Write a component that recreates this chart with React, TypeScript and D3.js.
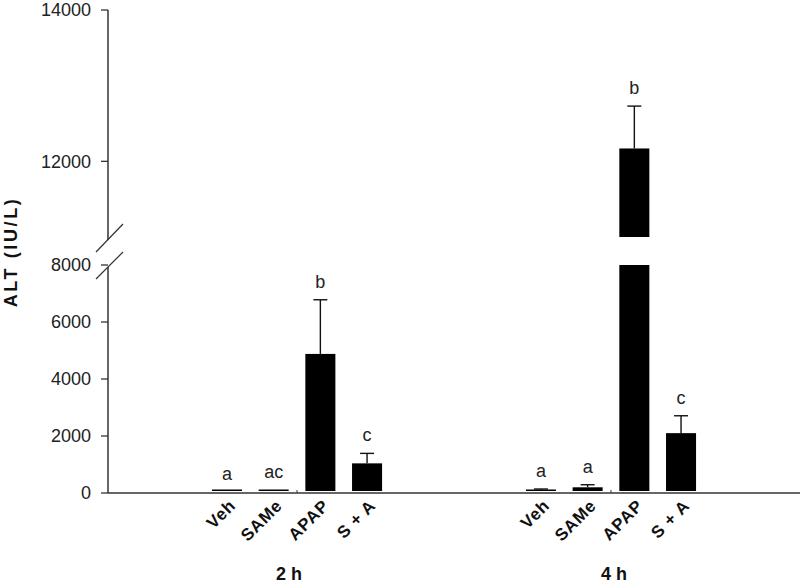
import React from "react";
import * as d3 from "d3";

const groups = ["2 h", "4 h"];
const treatments = ["Veh", "SAMe", "APAP", "S + A"];
const means2h = [50, 90, 4880, 1040];
const errs2h = [0, 0, 1900, 350];
const means4h = [100, 200, 12170, 2100];
const errs4h = [40, 90, 560, 610];
const letters2h = ["a", "ac", "b", "c"];
const letters4h = ["a", "a", "b", "c"];
const lowerTicks = [0, 2000, 4000, 6000, 8000];
const upperTicks = [12000, 14000];
const lowerDomain = [0, 8000];
const upperDomain = [11000, 14000];

const W = 800;
const H = 585;
const left = 108;
const right = 800;
const groupLabelShift = [-8, 3];

export default function App() {
  const yLow = d3.scaleLinear().domain(lowerDomain).range([493, 265]);
  const yUp = d3.scaleLinear().domain(upperDomain).range([237, 10]);
  const xG = d3.scaleBand().domain(groups).range([left, right]).paddingInner(0).paddingOuter(0.102);
  const xT = d3.scaleBand().domain(treatments).range([0, xG.bandwidth()]).paddingInner(0.357).paddingOuter(1.54);

  const data = [
    { g: groups[0], means: means2h, errs: errs2h, letters: letters2h },
    { g: groups[1], means: means4h, errs: errs4h, letters: letters4h },
  ];
  const breakV = lowerDomain[1];
  const y = (v: number) => (v <= breakV ? yLow(v) : yUp(v));
  const font = "Arial, 'Liberation Sans', sans-serif";
  const cap = 7;
  const ax = left;
  const yUpBottom = yUp(upperDomain[0]);
  const yLowTop = yLow(lowerDomain[1]);

  return (
    <svg width={W} height={H} style={{ position: "absolute", left: 0, top: 0, background: "#fff" }} fontFamily={font}>
      {/* y axis */}
      <line x1={ax} x2={ax} y1={yUp(upperDomain[1])} y2={yUpBottom + 3} stroke="#333" strokeWidth={1.5} />
      <line x1={ax} x2={ax} y1={yLowTop + 2} y2={yLow(0)} stroke="#333" strokeWidth={1.5} />
      {/* break marks */}
      <line x1={ax - 12} x2={ax + 15} y1={yUpBottom + 15} y2={yUpBottom - 13} stroke="#333" strokeWidth={1.2} />
      <line x1={ax - 12} x2={ax + 15} y1={yLowTop + 14} y2={yLowTop - 13} stroke="#333" strokeWidth={1.2} />
      {lowerTicks.map((t) => (
        <g key={"l" + t}>
          <line x1={ax - 7} x2={ax} y1={yLow(t)} y2={yLow(t)} stroke="#333" strokeWidth={1.3} />
          <text x={ax - 17} y={yLow(t)} dy="0.36em" textAnchor="end" fontSize={18} fill="#222">{t}</text>
        </g>
      ))}
      {upperTicks.map((t) => (
        <g key={"u" + t}>
          <line x1={ax - 7} x2={ax} y1={yUp(t)} y2={yUp(t)} stroke="#333" strokeWidth={1.3} />
          <text x={ax - 17} y={yUp(t)} dy="0.36em" textAnchor="end" fontSize={18} fill="#222">{t}</text>
        </g>
      ))}
      <text transform={`translate(17,252) rotate(-90)`} textAnchor="middle" fontSize={18} fontWeight="bold" letterSpacing={2.6} fill="#111">ALT (IU/L)</text>
      {/* x axis */}
      <line x1={left} x2={right} y1={yLow(0)} y2={yLow(0)} stroke="#333" strokeWidth={1.5} />
      {data.map((d, gi) => {
        const gx = xG(d.g)!;
        const gc = gx + xG.bandwidth() / 2;
        return (
          <g key={d.g}>
            <line x1={gc} x2={gc} y1={yLow(0)} y2={yLow(0) - 3} stroke="#333" strokeWidth={1} />
            {treatments.map((t, i) => {
              const bx = gx + xT(t)!;
              const bw = xT.bandwidth();
              const cx = bx + bw / 2;
              const m = d.means[i];
              const e = d.errs[i];
              const base = yLow(0) - 2;
              const top = m + e;
              const rects =
                m > breakV
                  ? [
                      [yLowTop, base],
                      [y(m), yUpBottom],
                    ]
                  : [[Math.min(y(m), base - 1.5), base]];
              return (
                <g key={t}>
                  {rects.map((r, k) => (
                    <rect key={k} x={bx} width={bw} y={r[0]} height={r[1] - r[0]} fill="#000" />
                  ))}
                  {e > 0 && (
                    <g stroke="#111" strokeWidth={1.4}>
                      <line x1={cx} x2={cx} y1={y(m)} y2={y(top)} />
                      <line x1={cx - cap} x2={cx + cap} y1={y(top)} y2={y(top)} />
                    </g>
                  )}
                  <text x={cx} y={y(top) - 12} textAnchor="middle" fontSize={18} fill="#222">{d.letters[i]}</text>
                  <text
                    transform={`translate(${cx + 1},${yLow(0) + 5}) rotate(-45)`}
                    textAnchor="end"
                    dy="0.72em"
                    fontSize={17}
                    fontWeight="bold"
                    letterSpacing={0.8}
                    fill="#111"
                  >
                    {t}
                  </text>
                </g>
              );
            })}
            <text x={gc + groupLabelShift[gi]} y={580} textAnchor="middle" fontSize={18} fontWeight="bold" fill="#111">{d.g}</text>
          </g>
        );
      })}
    </svg>
  );
}
